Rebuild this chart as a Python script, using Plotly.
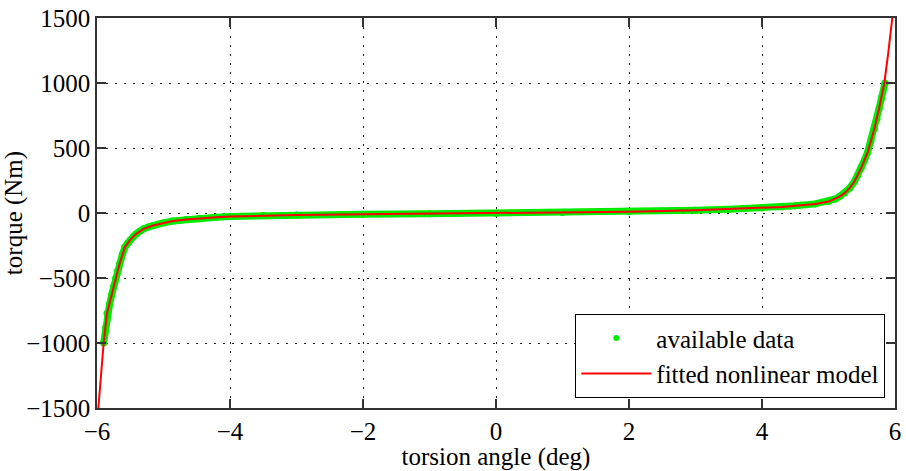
import plotly.graph_objects as go

# Torsion angle (deg) vs. torque (Nm): measured samples
data_angle = [-5.90, -5.87, -5.85, -5.81, -5.78, -5.75, -5.72, -5.69, -5.66, -5.62,
              -5.58, -5.54, -5.50, -5.45, -5.41, -5.36, -5.30, -5.23, -5.16, -5.08,
              -5.00, -4.86, -4.66, -4.46, -4.20, -4.00, -3.50, -3.00, -2.00, -1.00,
              0.00, 1.00, 2.00, 3.00, 3.50, 4.00, 4.30, 4.50, 4.80, 5.00,
              5.10, 5.17, 5.24, 5.32, 5.39, 5.44, 5.49, 5.54, 5.59, 5.64,
              5.69, 5.73, 5.76, 5.80, 5.85]
data_torque = [-1000, -880, -771, -700, -630, -565, -500, -445, -389, -322,
               -262, -230, -205, -180, -160, -140, -122, -108, -96, -85,
               -76, -62, -50, -40, -32, -27, -20, -15, -10, -6,
               -2, 3, 10, 21, 29, 39, 47, 55, 70, 88,
               108, 128, 153, 193, 242, 290, 344, 405, 470, 555,
               649, 725, 802, 890, 1000]

# Fitted nonlinear model curve
model_angle = [-5.98, -5.94, -5.90, -5.85, -5.78, -5.72, -5.66, -5.58, -5.50, -5.41,
               -5.30, -5.16, -5.00, -4.86, -4.66, -4.46, -4.20, -4.00, -3.50, -3.00,
               -2.00, -1.00, 0.00, 1.00, 2.00, 3.00, 3.50, 4.00, 4.30, 4.50,
               4.80, 5.00, 5.10, 5.17, 5.24, 5.32, 5.39, 5.49, 5.59, 5.69,
               5.76, 5.84, 5.90, 5.96]
model_torque = [-1500, -1250, -1000, -771, -630, -500, -389, -262, -205, -160,
                -122, -96, -76, -62, -50, -40, -32, -27, -20, -15,
                -10, -6, -2, 3, 10, 21, 29, 39, 47, 55,
                70, 88, 108, 128, 153, 193, 242, 344, 470, 649,
                802, 1000, 1237, 1504]

x_ticks = [-6, -4, -2, 0, 2, 4, 6]
y_ticks = [-1500, -1000, -500, 0, 500, 1000, 1500]

GREEN = "rgb(0,235,0)"
FONT = dict(family="Liberation Serif, Times New Roman, serif", size=25, color="black")

fig = go.Figure()

# dense band of measured samples
fig.add_trace(go.Scatter(
    x=data_angle, y=data_torque, mode="lines+markers",
    line=dict(color=GREEN, width=7),
    marker=dict(color=GREEN, size=7),
    name="available data", showlegend=False,
))
# legend entry for the samples
fig.add_trace(go.Scatter(
    x=[None], y=[None], mode="markers", marker=dict(color=GREEN, size=6),
    name="available data",
))
fig.add_trace(go.Scatter(
    x=model_angle, y=model_torque, mode="lines", line=dict(color="red", width=2),
    name="fitted nonlinear model",
))

axis_common = dict(
    showline=True, linecolor="#333", linewidth=1.5, mirror="ticks",
    ticks="inside", ticklen=9, tickcolor="#333", tickwidth=1.5,
    showgrid=True, gridcolor="#222", gridwidth=1, griddash="2px,7px",
    zeroline=False, tickfont=FONT,
)

fig.update_layout(
    width=906, height=471,
    margin=dict(l=97, r=5, t=15, b=63),
    paper_bgcolor="white", plot_bgcolor="white",
    font=FONT,
    xaxis=dict(range=[-6, 6], tickvals=x_ticks,
               title=dict(text="torsion angle (deg)", font=FONT, standoff=0), **axis_common),
    yaxis=dict(range=[-1500, 1500], tickvals=y_ticks,
               title=dict(text="torque (Nm)", font=FONT, standoff=4), **axis_common),
    legend=dict(x=0.9876, y=0.0254, xanchor="right", yanchor="bottom",
                bgcolor="white", bordercolor="black", borderwidth=1.2, font=FONT,
                tracegroupgap=0, itemwidth=70),
    showlegend=True,
)

fig.write_html("out.html")
